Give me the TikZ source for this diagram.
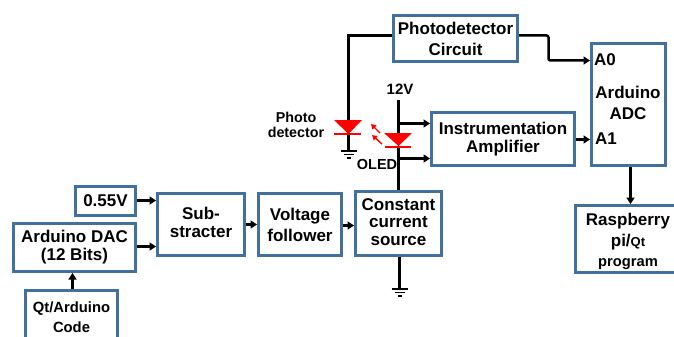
\documentclass[tikz,border=0pt]{standalone}
\usepackage{fontspec}
\setmainfont{Liberation Sans}
\usetikzlibrary{arrows.meta}
\definecolor{boxblue}{RGB}{65,113,156}
\tikzset{x=1pt,y=-1pt,
 blk/.style={draw=boxblue,line width=3pt,fill=white,inner sep=0pt,align=center,font=\fontsize{17}{18}\bfseries},
 lbl/.style={inner sep=0pt,align=center,font=\fontsize{17}{18}\bfseries},
 wire/.style={line width=2.5pt,black},
 arr/.style={wire,-{Triangle[length=6.5pt,width=8pt]}},
 ledfill/.style={fill=red,draw=none},
 ledbar/.style={draw=red,line width=1.5pt},
 rarrow/.style={draw=red,line width=1.4pt,-{Triangle[length=5pt,width=5.5pt]}},
 gnd/.style={line width=1.3pt,black}}
\newcommand{\boxat}[6]{\node[blk,minimum width=#3-#2,minimum height=#5-#4] (#1) at ({(#2+#3)/2},{(#4+#5)/2}) {#6};}
\newcommand{\groundat}[2]{%
 \draw[gnd,line width=1.7pt] (#1-8,#2) -- (#1+8,#2);
 \draw[gnd] (#1-5,#2+3.5) -- (#1+5,#2+3.5);
 \draw[gnd] (#1-2,#2+7) -- (#1+2,#2+7);}
\begin{document}
\begin{tikzpicture}
\useasboundingbox (0,0) rectangle (674,337);
\fill[white] (0,0) rectangle (674,337);
% boxes
\boxat{pdc}{393.5}{517.5}{15.5}{61.5}{Photodetector\\[3pt]Circuit}
\boxat{adc}{591.5}{665.5}{43.5}{165.5}{}
\node[lbl,anchor=west] (a0) at (594,60) {A0};
\node[lbl] (adctxt) at (628,103) {Arduino\\[3pt]ADC};
\node[lbl,anchor=west] (a1) at (595,139) {A1};
\boxat{amp}{431.5}{574.5}{112.5}{165.5}{Instrumentation\\Amplifier}
\boxat{ccs}{355.5}{441.5}{191.5}{255.5}{}
\node[lbl,font=\fontsize{17}{17.5}\bfseries] (ccstxt) at (398.5,222) {Constant\\current\\source};
\boxat{vf}{258.5}{341.5}{193.5}{255.5}{Voltage\\[3pt]follower}
\boxat{sub}{157.5}{244.5}{193.5}{255.5}{}
\node[lbl] (subtxt) at (201,222) {Sub-\\stracter};
\boxat{v55}{75.5}{135.5}{186.5}{215.5}{0.55V}
\boxat{dac}{13.5}{135.5}{223.5}{271.5}{Arduino DAC\\(12 Bits)}
\boxat{qt}{25.5}{117.5}{290.5}{346.5}{}
\node[lbl,font=\fontsize{14.8}{20}\bfseries] (qttxt) at (71.5,317) {Qt/Arduino\\Code};
\boxat{rpi}{575.5}{680.5}{205.5}{272.5}{}
\node[lbl] (rpitxt) at (628,241) {Raspberry\\[3pt]pi/{\fontsize{13}{14}\bfseries Qt}\\[2pt]{\fontsize{14.7}{14}\bfseries program}};
% labels
\node[lbl,font=\fontsize{14.3}{15}\bfseries] (phot) at (296,125) {Photo\\detector};
\node[lbl,font=\fontsize{15}{15}\bfseries] (v12) at (400,89) {12V};
\node[lbl,font=\fontsize{14.5}{15}\bfseries] (oled) at (377,165) {OLED};
% coordinates
\coordinate (pd) at (348.5,120);
\coordinate (top) at (398.5,100);
\coordinate (tapa) at (398.5,123.5);
\coordinate (tapb) at (398.5,158.5);
\coordinate (g1) at (348.5,151);
\coordinate (g2) at (399.5,289);
% wires
\draw[wire] (pdc.west |- 0,35.5) -- (348.5,35.5) -- (pd);
\draw[wire] (348.5,134) -- (g1);
\draw[wire] (top) -- (398.5,136);
\draw[wire] (398.5,148) -- (ccs.north -| 398.5,0);
\draw[arr] (tapa) -- (amp.west |- tapa);
\draw[arr] (tapb) -- (amp.west |- tapb);
\draw[wire] (ccs.south -| 399.5,0) -- (g2);
\draw[arr,rounded corners=2pt] (pdc.east |- 0,35.5) -- (548.5,35.5) -- (548.5,60.5) -- (adc.west |- 0,60.5);
\draw[arr] (amp.east |- 0,139.5) -- (adc.west |- 0,139.5);
\draw[arr] (adc.south -| 630.5,0) -- (rpi.north -| 630.5,0);
\draw[arr] (v55.east |- 0,200.5) -- (sub.west |- 0,200.5);
\draw[arr] (dac.east |- 0,246.5) -- (sub.west |- 0,246.5);
\draw[arr] (sub.east |- 0,224.5) -- (vf.west |- 0,224.5);
\draw[arr] (vf.east |- 0,225.5) -- (ccs.west |- 0,225.5);
\draw[arr] (qt.north -| 72.5,0) -- (dac.south -| 72.5,0);
% LEDs
\fill[ledfill] (334,120) -- (362,120) -- (348.5,134) -- cycle;
\draw[ledbar] (334,134) -- (361,134);
\fill[ledfill] (384,133) -- (412,133) -- (398.5,146) -- cycle;
\draw[ledbar] (385,147) -- (411,147);
\draw[rarrow] (380,133) -- (371,124);
\draw[rarrow] (382,144) -- (372,135);
\groundat{348.5}{151}
\groundat{399.5}{289}
\end{tikzpicture}
\end{document}
